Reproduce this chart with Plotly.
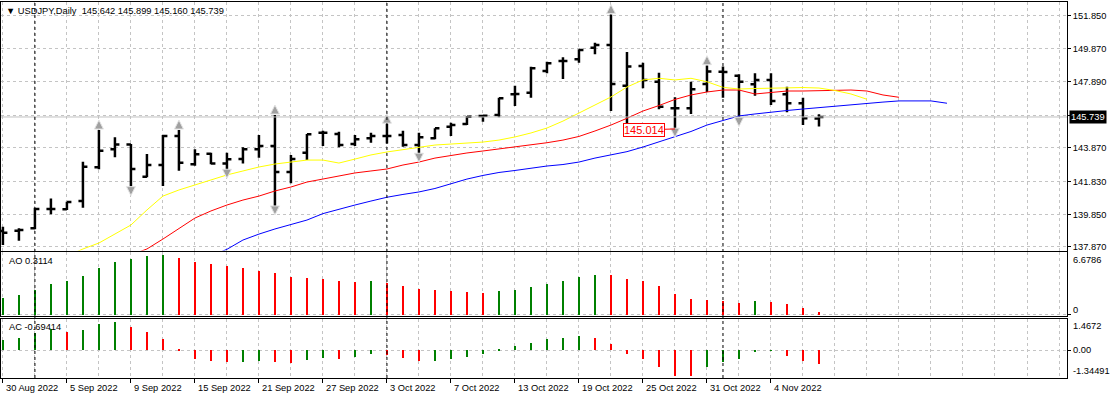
import plotly.graph_objects as go

# ---------------- data ----------------
opens = [138.84, 138.85, 139.00, 140.17, 140.15, 140.65, 142.69, 143.78, 144.08, 142.12,
         142.83, 144.59, 142.87, 143.51, 142.93, 143.19, 143.78, 143.98, 142.41, 143.58,
         144.79, 144.71, 144.10, 144.45, 144.59, 144.65, 144.04, 144.45, 145.15, 145.31,
         145.80, 145.86, 147.11, 147.21, 148.52, 149.13, 149.23, 149.93, 150.09, 147.63,
         148.82, 147.87, 146.26, 146.26, 147.73, 148.48, 148.24, 147.72, 147.98, 147.11,
         146.57, 145.642]
highs = [139.10, 139.00, 140.25, 140.81, 140.61, 143.03, 144.95, 144.51, 144.10, 143.50,
         144.65, 144.95, 143.78, 143.58, 143.58, 143.90, 144.65, 145.86, 143.44, 144.71,
         144.91, 144.85, 144.65, 144.79, 145.31, 144.91, 144.79, 145.05, 145.39, 145.80,
         145.86, 146.90, 147.63, 148.78, 149.08, 149.35, 149.83, 150.23, 151.94, 149.67,
         149.02, 148.42, 146.93, 147.87, 148.85, 148.80, 148.32, 148.38, 148.38, 147.57,
         146.90, 145.899]
lows = [137.99, 138.25, 138.94, 139.85, 140.11, 140.25, 142.57, 143.30, 141.48, 142.09,
        141.56, 142.49, 142.79, 142.87, 142.53, 142.93, 143.27, 140.31, 141.72, 143.13,
        143.98, 143.90, 143.98, 144.18, 144.14, 143.94, 143.50, 144.39, 144.59, 145.25,
        145.45, 145.72, 146.40, 146.90, 148.38, 148.04, 149.02, 149.53, 146.10, 145.37,
        147.47, 146.20, 145.014, 145.92, 147.25, 146.90, 145.66, 147.03, 146.46, 146.02,
        145.25, 145.160]
closes = [138.73, 138.90, 140.17, 140.17, 140.59, 142.73, 143.70, 144.08, 142.59, 142.83,
          144.59, 142.97, 143.48, 142.93, 143.18, 143.78, 143.98, 142.41, 143.19, 144.69,
          144.79, 144.04, 144.39, 144.59, 144.59, 144.04, 144.51, 145.05, 145.25, 145.75,
          145.82, 146.87, 147.13, 148.68, 148.99, 149.13, 149.79, 150.09, 147.73, 148.79,
          147.98, 146.36, 146.26, 147.41, 148.49, 148.46, 147.87, 147.98, 146.70, 146.57,
          145.66, 145.739]

# Alligator lines (shifted forward, so they extend past the last bar)
lips_start = 4
lips = [137.32, 137.75, 138.11, 138.65, 139.20, 140.11, 140.95, 141.32, 141.62, 141.92,
        142.23, 142.47, 142.71, 142.89, 143.01, 143.13, 143.13, 142.95, 143.19, 143.44,
        143.62, 143.77, 143.92, 144.04, 144.10, 144.16, 144.22, 144.34, 144.53, 144.77,
        145.07, 145.49, 145.98, 146.46, 146.95, 147.55, 147.98, 148.08, 147.98, 148.08,
        147.87, 147.53, 147.43, 147.46, 147.49, 147.53, 147.52, 147.49, 147.34, 147.13,
        146.81]
teeth_start = 8
teeth = [137.38, 137.75, 138.35, 138.96, 139.62, 140.05, 140.41, 140.71, 140.95, 141.26,
         141.50, 141.80, 141.98, 142.17, 142.35, 142.47, 142.59, 142.83, 143.01, 143.25,
         143.41, 143.56, 143.68, 143.80, 143.92, 144.04, 144.18, 144.34, 144.56, 144.89,
         145.25, 145.66, 146.10, 146.43, 146.80, 147.07, 147.25, 147.37, 147.37, 147.13,
         147.22, 147.31, 147.31, 147.34, 147.37, 147.37, 147.31, 147.07, 146.93]
jaw_start = 13
jaw = [137.32, 137.73, 138.29, 138.65, 138.96, 139.23, 139.50, 139.89, 140.17, 140.41,
       140.65, 140.88, 141.05, 141.20, 141.41, 141.71, 141.98, 142.20, 142.38, 142.50,
       142.65, 142.77, 142.86, 143.01, 143.25, 143.44, 143.64, 143.92, 144.22, 144.53,
       144.86, 145.25, 145.52, 145.80, 145.92, 146.04, 146.13, 146.22, 146.31, 146.40,
       146.46, 146.55, 146.64, 146.71, 146.71, 146.71, 146.57]

fractal_up = [6, 11, 17, 24, 38, 44]
fractal_down = [8, 14, 17, 26, 42, 46]

ao = [1.81, 2.15, 2.75, 3.40, 3.74, 4.30, 5.21, 5.89, 6.23, 6.57,
      6.6786, 6.34, 5.89, 5.66, 5.44, 5.21, 4.87, 4.64, 4.19, 4.08,
      3.96, 3.74, 3.62, 3.74, 3.51, 3.17, 2.83, 2.72, 2.60, 2.49,
      2.47, 2.60, 2.72, 3.06, 3.40, 3.74, 4.19, 4.42, 4.40, 3.96,
      3.74, 3.17, 2.26, 1.70, 1.68, 1.47, 1.25, 1.47, 1.45, 1.13,
      0.68, 0.3114]
ac = [0.52, 0.64, 0.90, 1.09, 0.98, 1.04, 1.35, 1.4672, 1.21, 0.95,
      0.59, 0.05, -0.45, -0.55, -0.61, -0.59, -0.55, -0.61, -0.66, -0.50,
      -0.40, -0.45, -0.35, -0.19, -0.24, -0.40, -0.55, -0.53, -0.45, -0.35,
      -0.19, 0.04, 0.21, 0.41, 0.62, 0.66, 0.73, 0.66, 0.35, -0.19,
      -0.45, -0.83, -1.30, -1.34491, -0.86, -0.61, -0.45, -0.03, 0.02, -0.30,
      -0.55, -0.69414]

date_tick_bars = [0, 4, 8, 12, 16, 20, 24, 28, 32, 36, 40, 44, 48]
date_tick_labels = ["30 Aug 2022", "5 Sep 2022", "9 Sep 2022", "15 Sep 2022", "21 Sep 2022",
                    "27 Sep 2022", "3 Oct 2022", "7 Oct 2022", "13 Oct 2022", "19 Oct 2022",
                    "25 Oct 2022", "31 Oct 2022", "4 Nov 2022"]
month_separators = [2, 24, 45]

price_ticks = [137.870, 139.850, 141.830, 143.870, 145.850, 147.890, 149.870, 151.850]
price_labels = ["137.870", "139.850", "141.830", "143.870", "", "147.890", "149.870", "151.850"]
last_price = 145.739
marked_low = 145.014
marked_bar = 42

symbol_title = "USDJPY,Daily"
# --------------------------------------------------------------

FONT = "Liberation Sans, Arial, sans-serif"
FS = 9.3
GRID = "#c4c4c4"
DASH = "3px,3px"

xs = list(range(len(opens)))
up_col = "#008000"
dn_col = "#ff0000"


def colors(vals):
    out = []
    for i, v in enumerate(vals):
        if i == 0 or v > vals[i - 1]:
            out.append(up_col)
        else:
            out.append(dn_col)
    return out


fig = go.Figure()

# Alligator
fig.add_trace(go.Scatter(x=list(range(jaw_start, jaw_start + len(jaw))), y=jaw, mode="lines",
                         line=dict(color="#0000ff", width=1), hoverinfo="skip", showlegend=False))
fig.add_trace(go.Scatter(x=list(range(teeth_start, teeth_start + len(teeth))), y=teeth, mode="lines",
                         line=dict(color="#ff0000", width=1), hoverinfo="skip", showlegend=False))
fig.add_trace(go.Scatter(x=list(range(lips_start, lips_start + len(lips))), y=lips, mode="lines",
                         line=dict(color="#ffff00", width=1), hoverinfo="skip", showlegend=False))

# Bars
fig.add_trace(go.Ohlc(x=xs, open=opens, high=highs, low=lows, close=closes,
                      increasing=dict(line=dict(color="black", width=2.5)),
                      decreasing=dict(line=dict(color="black", width=2.5)),
                      tickwidth=0.28, hoverinfo="skip", showlegend=False))

# Fractals
fig.add_trace(go.Scatter(x=fractal_up, y=[highs[i] + 0.6 for i in fractal_up], mode="markers",
                         marker=dict(symbol="arrow-up", size=9, color="#a0a0a0",
                                     line=dict(color="#e4e4e4", width=1)),
                         hoverinfo="skip", showlegend=False))
fig.add_trace(go.Scatter(x=fractal_down, y=[lows[i] - 0.5 for i in fractal_down], mode="markers",
                         marker=dict(symbol="arrow-down", size=9, color="#a0a0a0",
                                     line=dict(color="#e4e4e4", width=1)),
                         hoverinfo="skip", showlegend=False))

# AO / AC
fig.add_trace(go.Bar(x=xs, y=ao, marker=dict(color=colors(ao), line=dict(width=0)), width=0.15,
                     xaxis="x2", yaxis="y2", hoverinfo="skip", showlegend=False))
fig.add_trace(go.Bar(x=xs, y=ac, marker=dict(color=colors(ac), line=dict(width=0)), width=0.15,
                     xaxis="x3", yaxis="y3", hoverinfo="skip", showlegend=False))

XR = [-0.12, 66.5]
minor = dict(tickvals=list(range(0, 67, 2)), showgrid=True, gridcolor=GRID, griddash=DASH,
             gridwidth=1, ticks="")
xcommon = dict(range=XR, showline=True, mirror=True, linecolor="black", linewidth=1,
               tickvals=date_tick_bars, showticklabels=False, showgrid=True, gridcolor=GRID,
               griddash=DASH, zeroline=False, minor=minor, fixedrange=True)

ycommon = dict(side="right", showline=True, mirror=True, linecolor="black", linewidth=1,
               showgrid=True, gridcolor=GRID, griddash=DASH, zeroline=False, fixedrange=True,
               ticks="outside", ticklen=3, tickcolor="black",
               tickfont=dict(family=FONT, size=FS, color="black"))

fig.update_layout(
    width=1114, height=399,
    margin=dict(l=1, r=47, t=2, b=21, autoexpand=False),
    paper_bgcolor="white", plot_bgcolor="white",
    showlegend=False, bargap=0,
    xaxis=dict(**xcommon, anchor="y", domain=[0, 1], rangeslider=dict(visible=False)),
    xaxis2=dict(**xcommon, anchor="y2", domain=[0, 1], matches="x"),
    xaxis3=dict(**{**xcommon, "ticks": "outside", "ticklen": 4, "tickcolor": "black"},
                anchor="y3", domain=[0, 1], matches="x"),
    yaxis=dict(**ycommon, domain=[0.339, 1], range=[137.655, 152.697],
               tickvals=price_ticks, ticktext=price_labels),
    yaxis2=dict(**{**ycommon, "showticklabels": False}, domain=[0.1649, 0.3338],
                range=[-0.113, 7.04], tickvals=[0]),
    yaxis3=dict(**{**ycommon, "showticklabels": False}, domain=[0, 0.1582],
                range=[-1.451, 1.632], tickvals=[0]),
)

# bid line
fig.add_shape(type="line", xref="x", yref="y", x0=XR[0], x1=XR[1], y0=last_price, y1=last_price,
              line=dict(color="#c0c0c0", width=1))

# month separators
for b in month_separators:
    fig.add_shape(type="line", xref="x", yref="paper", x0=b, x1=b, y0=0, y1=1,
                  line=dict(color="black", width=1, dash=DASH))

ann = []
# title
ann.append(dict(xref="paper", yref="paper", x=0, y=1, xanchor="left", yanchor="middle",
                xshift=3, yshift=-9, showarrow=False,
                text="▼ " + symbol_title + "&nbsp;&nbsp;" + "%.3f %.3f %.3f %.3f" % (
                    opens[-1], highs[-1], lows[-1], closes[-1]),
                font=dict(family=FONT, size=FS, color="black")))
# indicator names
ann.append(dict(xref="paper", yref="y2 domain", x=0, y=1, xanchor="left", yanchor="middle",
                xshift=6, yshift=-9, showarrow=False, text="AO %.4f" % ao[-1],
                font=dict(family=FONT, size=FS, color="black")))
ann.append(dict(xref="paper", yref="y3 domain", x=0, y=1, xanchor="left", yanchor="middle",
                xshift=6, yshift=-8, showarrow=False, text="AC %.5f" % ac[-1],
                font=dict(family=FONT, size=FS, color="black")))
# right labels of sub windows
for yref, val, txt, sh in [("y2", max(ao), "%.4f" % max(ao), -4), ("y2", 0, "0", 5),
                           ("y3", max(ac), "%.4f" % max(ac), -4), ("y3", 0, "0.00", 0),
                           ("y3", min(ac), "%.5f" % min(ac), 5)]:
    ann.append(dict(xref="paper", yref=yref, x=1, y=val, xanchor="left", yanchor="middle",
                    xshift=4, yshift=sh, showarrow=False, text=txt,
                    font=dict(family=FONT, size=FS, color="black")))
# last price box
ann.append(dict(xref="paper", yref="y", x=1, y=last_price, xanchor="left", yanchor="middle",
                xshift=2, showarrow=False, text="%.3f" % last_price, bgcolor="black",
                borderpad=1, font=dict(family=FONT, size=FS, color="white")))
# marked low label
ann.append(dict(xref="x", yref="y", x=marked_bar, y=marked_low, ax=-31, ay=1,
                showarrow=True, arrowhead=0, arrowwidth=1, arrowcolor="red", standoff=0,
                text="%.3f" % marked_low, bgcolor="white", bordercolor="red", borderwidth=1,
                borderpad=0, font=dict(family=FONT, size=11, color="red")))
# date labels
for b, t in zip(date_tick_bars, date_tick_labels):
    ann.append(dict(xref="x", yref="paper", x=b, y=0, xanchor="left", yanchor="top",
                    xshift=1, yshift=-3, showarrow=False, text=t,
                    font=dict(family=FONT, size=FS, color="black")))
fig.update_layout(annotations=ann)

fig.write_html("out.html", config={"displayModeBar": False},
               post_script="document.body.style.margin='0';document.body.style.overflow='hidden';")
